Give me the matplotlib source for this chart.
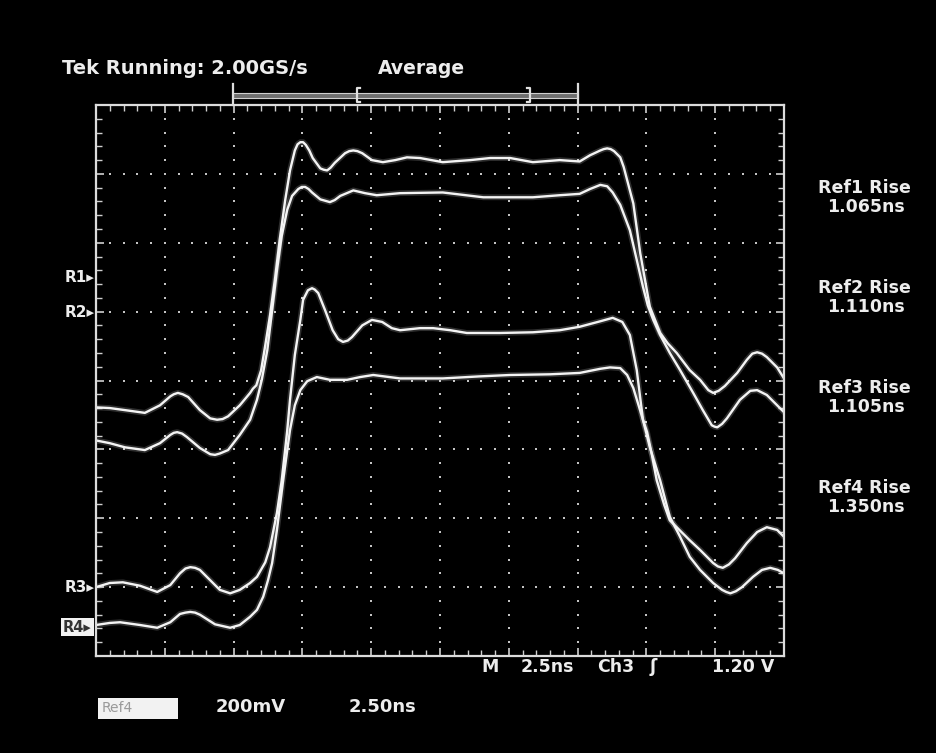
import numpy as np
import matplotlib.pyplot as plt
from matplotlib.lines import Line2D
from matplotlib.patches import Rectangle

# scope screen is 10 x 8 divisions (in divisions)
ref1_x = [0.00, 0.20, 0.42, 0.71, 0.93, 1.08, 1.13, 1.19, 1.26, 1.34, 1.51, 1.66, 1.71, 1.76, 1.84,
          1.92, 2.09, 2.24, 2.28, 2.33, 2.40, 2.46, 2.53, 2.60, 2.67, 2.75, 2.82, 2.89, 2.93, 2.97,
          3.01, 3.05, 3.10, 3.15, 3.26, 3.31, 3.36, 3.41, 3.47, 3.62, 3.68, 3.74, 3.80, 3.87, 4.01,
          4.17, 4.35, 4.52, 4.71, 5.04, 5.44, 5.73, 6.02, 6.35, 6.74, 7.03, 7.18, 7.33, 7.38, 7.43,
          7.48, 7.53, 7.62, 7.67, 7.72, 7.81, 7.91, 7.98, 8.05, 8.20, 8.31, 8.44, 8.63, 8.78, 8.90,
          8.97, 9.05, 9.14, 9.32, 9.46, 9.54, 9.61, 9.68, 9.75, 9.90, 10.00]
ref1_y = [3.61, 3.60, 3.57, 3.53, 3.64, 3.77, 3.80, 3.82, 3.80, 3.76, 3.57, 3.45, 3.44, 3.43, 3.44,
          3.48, 3.64, 3.82, 3.88, 3.93, 4.15, 4.51, 4.95, 5.46, 6.04, 6.62, 7.05, 7.34, 7.43, 7.46,
          7.46, 7.42, 7.34, 7.23, 7.08, 7.06, 7.05, 7.09, 7.16, 7.30, 7.33, 7.34, 7.33, 7.30, 7.20,
          7.17, 7.20, 7.24, 7.23, 7.17, 7.20, 7.23, 7.23, 7.17, 7.20, 7.18, 7.27, 7.34, 7.36, 7.37,
          7.36, 7.33, 7.24, 7.10, 6.91, 6.57, 5.85, 5.46, 5.07, 4.69, 4.54, 4.40, 4.15, 4.01, 3.86,
          3.82, 3.85, 3.92, 4.11, 4.30, 4.39, 4.41, 4.39, 4.34, 4.19, 4.03]

ref2_x = [0.00, 0.20, 0.42, 0.71, 0.93, 1.08, 1.13, 1.18, 1.25, 1.32, 1.51, 1.66, 1.73, 1.80, 1.92,
          2.09, 2.24, 2.34, 2.41, 2.49, 2.56, 2.63, 2.70, 2.78, 2.85, 2.94, 2.99, 3.04, 3.09, 3.14,
          3.26, 3.33, 3.40, 3.47, 3.55, 3.74, 3.91, 4.08, 4.42, 5.04, 5.63, 6.35, 6.74, 7.03, 7.18,
          7.33, 7.43, 7.51, 7.62, 7.76, 7.86, 7.95, 8.02, 8.10, 8.20, 8.34, 8.49, 8.68, 8.82, 8.95,
          8.99, 9.03, 9.10, 9.17, 9.36, 9.51, 9.61, 9.75, 9.90, 10.00]
ref2_y = [3.13, 3.09, 3.03, 2.99, 3.09, 3.21, 3.24, 3.25, 3.23, 3.18, 3.02, 2.93, 2.92, 2.94, 2.99,
          3.21, 3.43, 3.72, 4.01, 4.44, 5.02, 5.60, 6.10, 6.48, 6.68, 6.78, 6.81, 6.81, 6.78, 6.73,
          6.63, 6.61, 6.59, 6.62, 6.68, 6.76, 6.72, 6.69, 6.72, 6.73, 6.66, 6.66, 6.69, 6.71, 6.78,
          6.84, 6.82, 6.73, 6.55, 6.18, 5.75, 5.36, 5.09, 4.88, 4.66, 4.40, 4.15, 3.82, 3.57, 3.35,
          3.33, 3.32, 3.37, 3.45, 3.72, 3.85, 3.86, 3.79, 3.64, 3.54]

ref3_x = [0.00, 0.20, 0.39, 0.64, 0.89, 1.08, 1.22, 1.30, 1.37, 1.44, 1.51, 1.66, 1.80, 1.95, 2.09,
          2.24, 2.34, 2.46, 2.53, 2.63, 2.70, 2.78, 2.82, 2.89, 2.97, 3.01, 3.08, 3.14, 3.18, 3.23,
          3.33, 3.44, 3.52, 3.59, 3.66, 3.72, 3.87, 4.01, 4.16, 4.30, 4.42, 4.71, 4.90, 5.15, 5.39,
          5.87, 6.35, 6.74, 7.03, 7.33, 7.51, 7.65, 7.76, 7.86, 7.95, 8.01, 8.08, 8.15, 8.26, 8.34,
          8.44, 8.63, 8.78, 8.97, 9.04, 9.11, 9.20, 9.29, 9.46, 9.61, 9.75, 9.90, 10.00]
ref3_y = [1.00, 1.06, 1.07, 1.02, 0.93, 1.03, 1.20, 1.27, 1.29, 1.28, 1.25, 1.10, 0.96, 0.91, 0.96,
          1.06, 1.15, 1.36, 1.58, 2.08, 2.55, 3.28, 3.72, 4.37, 4.88, 5.17, 5.31, 5.34, 5.32, 5.27,
          5.02, 4.73, 4.60, 4.56, 4.58, 4.63, 4.80, 4.88, 4.85, 4.76, 4.73, 4.76, 4.76, 4.73, 4.69,
          4.69, 4.70, 4.73, 4.78, 4.86, 4.91, 4.85, 4.66, 4.15, 3.43, 3.25, 2.92, 2.55, 2.19, 1.97,
          1.87, 1.68, 1.54, 1.35, 1.30, 1.28, 1.33, 1.42, 1.64, 1.80, 1.87, 1.83, 1.73]

ref4_x = [0.00, 0.20, 0.35, 0.64, 0.89, 1.08, 1.22, 1.30, 1.37, 1.44, 1.51, 1.73, 1.95, 2.09, 2.24,
          2.34, 2.43, 2.50, 2.56, 2.63, 2.72, 2.82, 2.89, 2.97, 3.07, 3.21, 3.40, 3.65, 3.84, 4.03,
          4.42, 5.04, 5.58, 6.02, 6.60, 7.03, 7.33, 7.47, 7.62, 7.72, 7.81, 7.95, 8.05, 8.20, 8.34,
          8.49, 8.63, 8.78, 8.97, 9.10, 9.16, 9.22, 9.30, 9.39, 9.55, 9.68, 9.80, 9.91, 10.00]
ref4_y = [0.45, 0.48, 0.49, 0.45, 0.41, 0.49, 0.61, 0.63, 0.64, 0.63, 0.60, 0.46, 0.41, 0.45, 0.57,
          0.67, 0.86, 1.10, 1.35, 1.83, 2.55, 3.28, 3.64, 3.86, 3.99, 4.05, 4.01, 4.01, 4.05, 4.08,
          4.03, 4.03, 4.06, 4.08, 4.09, 4.11, 4.17, 4.19, 4.18, 4.08, 3.89, 3.43, 3.03, 2.55, 2.02,
          1.73, 1.44, 1.25, 1.06, 0.96, 0.93, 0.91, 0.94, 1.00, 1.15, 1.25, 1.28, 1.25, 1.20]

ref_names = ["R1", "R2", "R3", "R4"]
ref_levels = [5.49, 4.99, 1.00, 0.42]
rise_names = ["Ref1 Rise", "Ref2 Rise", "Ref3 Rise", "Ref4 Rise"]
rise_times = ["1.065ns", "1.110ns", "1.105ns", "1.350ns"]

W, H = 937, 753
FG = '#ededed'
FONT = dict(family='DejaVu Sans', weight='bold', color=FG)


def fx(px):
    return px / W


def fy(py):
    return 1 - py / H


fig = plt.figure(figsize=(W / 100, H / 100), dpi=100, facecolor='black')
ax = fig.add_axes([fx(96), fy(656), (784 - 96) / W, (656 - 105) / H])
ax.set_facecolor('black')
ax.set_xlim(0, 10)
ax.set_ylim(0, 8)

# dotted graticule
dots_x = np.arange(0, 10.001, 0.2)
dots_y = np.arange(0, 8.001, 0.2)
for gx in range(1, 10):
    ax.plot(np.full_like(dots_y, gx), dots_y, ls='none', marker='s', ms=2.1, mew=0, color='#c4c4c4')
for gy in range(1, 8):
    ax.plot(dots_x, np.full_like(dots_x, gy), ls='none', marker='s', ms=2.1, mew=0, color='#c4c4c4')

for sp in ax.spines.values():
    sp.set_color('#dcdcdc')
    sp.set_linewidth(1.6)
ax.set_xticks(range(0, 11))
ax.set_yticks(range(0, 9))
ax.set_xticks(dots_x, minor=True)
ax.set_yticks(dots_y, minor=True)
ax.tick_params(which='both', direction='in', top=True, right=True, color='#d0d0d0',
               labelbottom=False, labelleft=False)
ax.tick_params(which='major', length=6, width=1.2)
ax.tick_params(which='minor', length=4, width=1.0)

# traces, with a faint glow underneath
for xs, ys in [(ref1_x, ref1_y), (ref2_x, ref2_y), (ref3_x, ref3_y), (ref4_x, ref4_y)]:
    ax.plot(xs, ys, color='white', lw=4.2, alpha=0.18, solid_capstyle='round',
            solid_joinstyle='round')
    ax.plot(xs, ys, color='#f4f4f4', lw=1.7, solid_joinstyle='round')

# reference markers on the left edge
ytr = ax.get_yaxis_transform()
for name, lev in zip(ref_names, ref_levels):
    if name == "R4":
        ax.text(-0.006, lev, "R4\u25b8", transform=ytr, ha='right', va='center', fontsize=10.5,
                family='DejaVu Sans', weight='bold', color='#333333', clip_on=False,
                bbox=dict(boxstyle='square,pad=0.12', fc='#f2f2f2', ec='none'))
    else:
        ax.text(-0.002, lev, name + "\u25b8", transform=ytr, ha='right', va='center',
                fontsize=11, clip_on=False, **FONT)

# header
fig.text(fx(62), fy(68), "Tek Running: 2.00GS/s", ha='left', va='center', fontsize=14, **FONT)
fig.text(fx(378), fy(68), "Average", ha='left', va='center', fontsize=13.5, **FONT)

# record view bracket
fig.add_artist(Rectangle((fx(233), fy(98)), fx(578) - fx(233), fy(93) - fy(98),
                         fc='#6e6e6e', ec='#cfcfcf', lw=0.8))
for bx in [233, 578]:
    fig.add_artist(Line2D([fx(bx), fx(bx)], [fy(84), fy(105)], color='#dcdcdc', lw=1.6))
fig.add_artist(Line2D([fx(360), fx(357), fx(357), fx(360)], [fy(88), fy(88), fy(102), fy(102)],
                      color='#e0e0e0', lw=1.6))
fig.add_artist(Line2D([fx(527), fx(530), fx(530), fx(527)], [fy(88), fy(88), fy(102), fy(102)],
                      color='#e0e0e0', lw=1.6))

# rise time readouts
for i, (nm, val) in enumerate(zip(rise_names, rise_times)):
    y0 = 188 + 100 * i
    fig.text(fx(864), fy(y0), nm, ha='center', va='center', fontsize=12.5, **FONT)
    fig.text(fx(866), fy(y0 + 19), val, ha='center', va='center', fontsize=12.5, **FONT)

# timebase / trigger line under the screen
fig.text(fx(481), fy(667), "M", ha='left', va='center', fontsize=12.5, **FONT)
fig.text(fx(521), fy(667), "2.5ns", ha='left', va='center', fontsize=12.5, **FONT)
fig.text(fx(597), fy(667), "Ch3", ha='left', va='center', fontsize=12.5, **FONT)
fig.text(fx(650), fy(667), "\u0283", ha='left', va='center', fontsize=12.5, **FONT)
fig.text(fx(712), fy(667), "1.20 V", ha='left', va='center', fontsize=12.5, **FONT)

# channel scale readout
fig.add_artist(Rectangle((fx(98), fy(719)), fx(178) - fx(98), fy(698) - fy(719),
                         fc='#f2f2f2', ec='none'))
fig.text(fx(102), fy(708), "Ref4", ha='left', va='center', fontsize=10, family='DejaVu Sans',
         color='#9a9a9a')
fig.text(fx(216), fy(707), "200mV", ha='left', va='center', fontsize=13, **FONT)
fig.text(fx(349), fy(707), "2.50ns", ha='left', va='center', fontsize=13, **FONT)

fig.savefig("out.png", dpi=100, facecolor='black')
